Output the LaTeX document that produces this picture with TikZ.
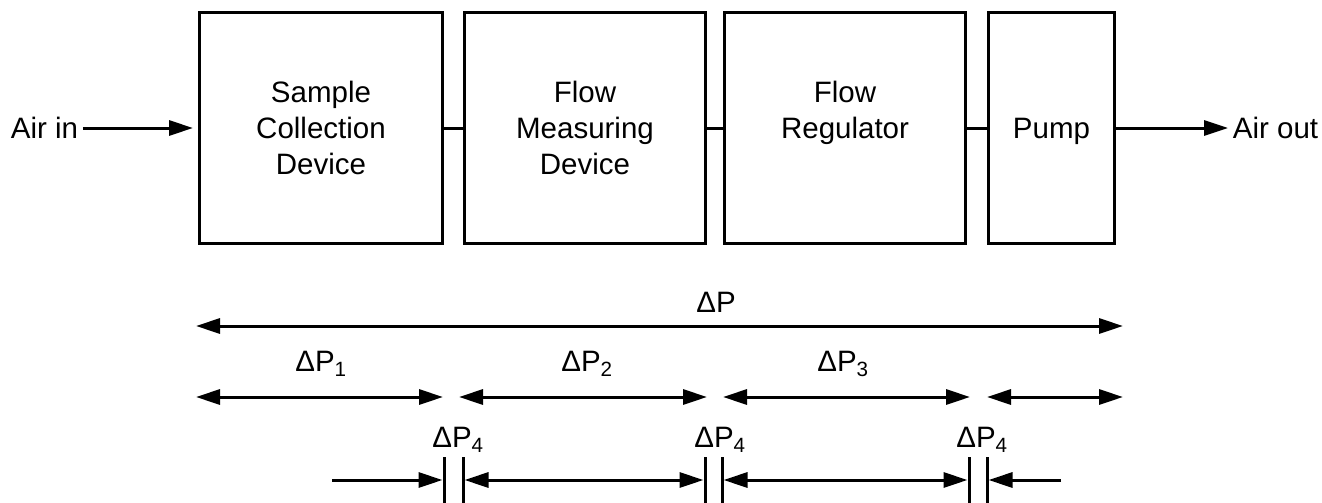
\documentclass[tikz,border=0pt]{standalone}
\usepackage{fontspec}
\setmainfont{Liberation Sans}
\usetikzlibrary{arrows.meta}
\newcommand{\dPlabel}[1]{ΔP\textsubscript{#1}}
\begin{document}
\begin{tikzpicture}[x=1pt,y=-1pt, line width=3pt,
  font=\fontsize{29.5}{36}\selectfont,
  box/.style={draw, line width=3pt, inner sep=0pt, align=center},
  tipone/.style={-{Triangle[length=24pt,width=15pt]}},
  tiptwo/.style={{Triangle[length=24pt,width=15pt]}-{Triangle[length=24pt,width=15pt]}},
  lbl/.style={anchor=base, inner sep=0pt}]
\useasboundingbox (0,0) rectangle (1322,503);

% boxes
\node[box, minimum width=243pt, minimum height=231pt] (b1) at (321,128) {Sample\\Collection\\Device};
\node[box, minimum width=241pt, minimum height=231pt] (b2) at (585,128) {Flow\\Measuring\\Device};
\node[box, minimum width=241pt, minimum height=231pt] (b3) at (845,128) {Flow\\Regulator\\\phantom{Device}};
\node[box, minimum width=126pt, minimum height=231pt, text depth=0pt] (b4) at (1051.5,128) {Pump};

\node[text depth=0pt] (ain) at (44.5,128) {Air in};
\node[text depth=0pt] (aout) at (1275.5,128) {Air out};

\draw[tipone, shorten >=5pt] (ain.east) -- (b1.west);
\draw (b1.east) -- (b2.west);
\draw (b2.east) -- (b3.west);
\draw (b3.east) -- (b4.west);
\draw[tipone] (b4.east) -- (aout.west);

% labels
\node[lbl] (lP) at (716,312) {ΔP};
\node[lbl] (lP1) at (321,371) {\dPlabel{1}};
\node[lbl] (lP2) at (587,371) {\dPlabel{2}};
\node[lbl] (lP3) at (843,371) {\dPlabel{3}};
\node[lbl] (lP4a) at (458,447) {\dPlabel{4}};
\node[lbl] (lP4b) at (720,447) {\dPlabel{4}};
\node[lbl] (lP4c) at (982,447) {\dPlabel{4}};

% total
\coordinate (pL) at (196,326);
\coordinate (pR) at (1123,326);
\draw[tiptwo] (pL) -- (pR);

% row 2
\coordinate (r1a) at (196,397);
\coordinate (r1b) at (443,397);
\coordinate (r2a) at (459,397);
\coordinate (r2b) at (707,397);
\coordinate (r3a) at (723,397);
\coordinate (r3b) at (970,397);
\coordinate (r4a) at (987,397);
\coordinate (r4b) at (1123,397);
\draw[tiptwo] (r1a) -- (r1b);
\draw[tiptwo] (r2a) -- (r2b);
\draw[tiptwo] (r3a) -- (r3b);
\draw[tiptwo] (r4a) -- (r4b);

% row 3 bars
\foreach \x [count=\i] in {444,463,705,722,969,987} {
  \coordinate (k\i t) at (\x,457);
  \coordinate (k\i b) at (\x,503);
  \draw (k\i t) -- (k\i b);
}
\coordinate (a0) at (332,480);
\coordinate (a1) at (442.5,480);
\coordinate (a2) at (464.5,480);
\coordinate (a3) at (703.5,480);
\coordinate (a4) at (723.5,480);
\coordinate (a5) at (967.5,480);
\coordinate (a6) at (988.5,480);
\coordinate (a7) at (1061,480);
\draw[tipone] (a0) -- (a1);
\draw[tiptwo] (a2) -- (a3);
\draw[tiptwo] (a4) -- (a5);
\draw[tipone] (a7) -- (a6);
\end{tikzpicture}
\end{document}
